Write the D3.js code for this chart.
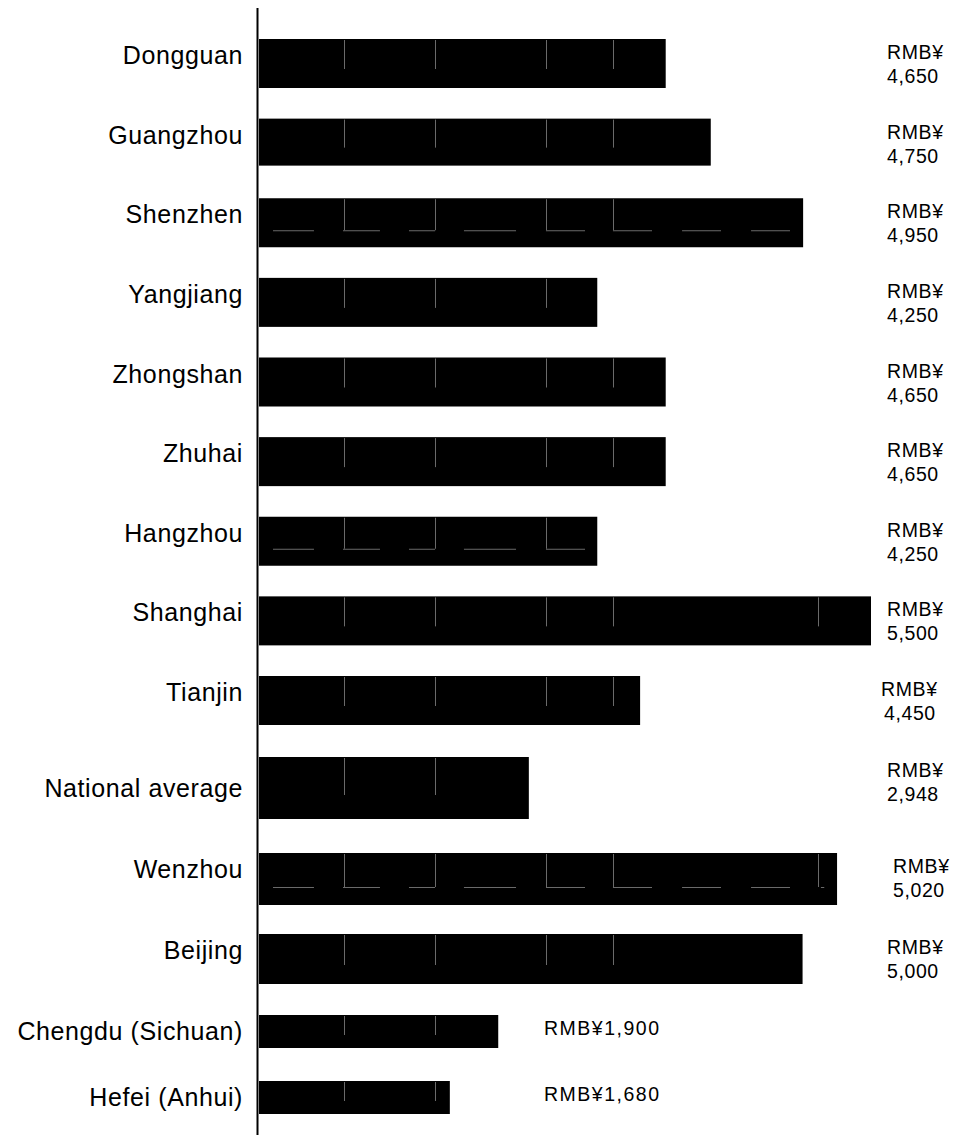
<!DOCTYPE html>
<html>
<head>
<meta charset="utf-8">
<script src="https://cdn.jsdelivr.net/npm/d3@7"></script>
<style>
  html, body { margin: 0; padding: 0; background: #fff; }
  svg { display: block; }
  text { font-family: "Liberation Sans", Arial, sans-serif; fill: #000; }
</style>
</head>
<body>
<svg id="chart" width="959" height="1135"></svg>
<script>
// ---- data ----
const categories = [
  "Dongguan", "Guangzhou", "Shenzhen", "Yangjiang", "Zhongshan", "Zhuhai",
  "Hangzhou", "Shanghai", "Tianjin", "National average", "Wenzhou",
  "Beijing", "Chengdu (Sichuan)", "Hefei (Anhui)"
];
// stated monthly value (RMB¥) shown in the labels
const wageValues = [4650, 4750, 4950, 4250, 4650, 4650, 4250, 5500, 4450, 2948, 5020, 5000, 1900, 1680];
// drawn bar lengths (same units, Shanghai = 5,500)
const barLengths = [3655, 4060, 4890, 3040, 3655, 3655, 3040, 5500, 3425, 2425, 5195, 4885, 2150, 1715];
// faint tile-boundary lines visible inside the bars (value units)
const gridValues = [764, 1582, 2575, 3181, 5024];
// short horizontal tile seams (value units: [start, end])
const seamValues = [[126, 494], [755, 1087], [1348, 1582], [1842, 2310], [2579, 2930],
                    [3181, 3532], [3802, 4152], [4422, 4772], [5050, 5080]];
const seamRows = ["Shenzhen", "Hangzhou", "Wenzhou"];

// ---- layout ----
const svg = d3.select("#chart");
const x = d3.scaleLinear().domain([0, 5500]).range([259, 871]);
const rowY = d3.scaleLinear().domain([0, 8, 9, 12, 13]).range([55, 692, 788, 1031, 1097]);

function geom(cat, i) {
  const c = rowY(i);
  let h = 49, off = 16;
  if (cat === "National average") { h = 62; off = 31; }
  else if (cat === "Chengdu (Sichuan)" || cat === "Hefei (Anhui)") { h = 33; }
  else if (cat === "Wenzhou") { h = 52; }
  else if (cat === "Beijing") { h = 50; }
  else if (cat === "Guangzhou") { h = 47; }
  return { c, top: c - off, h };
}

const rows = categories.map((cat, i) => ({
  cat, i, value: wageValues[i], len: barLengths[i], ...geom(cat, i)
}));

// bars
const g = svg.append("g");
g.selectAll("rect.bar").data(rows).join("rect")
  .attr("class", "bar")
  .attr("x", x(0))
  .attr("y", d => d.top)
  .attr("width", d => x(d.len) - x(0))
  .attr("height", d => d.h)
  .attr("fill", "#000");

// inner vertical tile lines
rows.forEach(d => {
  const depth = seamRows.includes(d.cat) ? Math.round(d.h * 0.66) : Math.round(d.h * 0.62);
  g.selectAll(null).data(gridValues.filter(v => v < d.len - 60)).join("line")
    .attr("x1", v => Math.round(x(v)) + 0.5)
    .attr("x2", v => Math.round(x(v)) + 0.5)
    .attr("y1", d.top + 1)
    .attr("y2", d.top + depth)
    .attr("stroke", "#6a6a6a")
    .attr("stroke-width", 1);
  if (seamRows.includes(d.cat)) {
    g.selectAll(null).data(seamValues.filter(s => s[1] < d.len)).join("line")
      .attr("x1", s => x(s[0]))
      .attr("x2", s => x(s[1]))
      .attr("y1", d.top + depth + 0.5)
      .attr("y2", d.top + depth + 0.5)
      .attr("stroke", "#6a6a6a")
      .attr("stroke-width", 1);
  }
});

// vertical axis line
svg.append("line")
  .attr("x1", x(0) - 1.5).attr("x2", x(0) - 1.5)
  .attr("y1", 8).attr("y2", 1135)
  .attr("stroke", "#000").attr("stroke-width", 2);

// category labels
svg.selectAll("text.cat").data(rows).join("text")
  .attr("class", "cat")
  .attr("x", 243)
  .attr("y", d => d.c)
  .attr("dy", "0.36em")
  .attr("text-anchor", "end")
  .style("font-size", "25px")
  .style("letter-spacing", "0.6px")
  .text(d => d.cat);

// value labels
const fmt = d3.format(",");
rows.forEach(d => {
  if (d.cat === "Chengdu (Sichuan)" || d.cat === "Hefei (Anhui)") {
    svg.append("text")
      .attr("x", 544).attr("y", d.top + 20)
      .style("font-size", "19.5px")
      .style("letter-spacing", "1.5px")
      .text("RMB¥" + fmt(d.value));
  } else {
    let x1 = 887, x2 = 887;
    if (d.cat === "Tianjin") { x1 = 881; x2 = 884; }
    if (d.cat === "Wenzhou") { x1 = 893; x2 = 893; }
    const t = svg.append("text").style("font-size", "19.5px").style("letter-spacing", "0.6px");
    t.append("tspan").attr("x", x1).attr("y", d.top + 20).text("RMB¥");
    t.append("tspan").attr("x", x2).attr("y", d.top + 44).text(fmt(d.value));
  }
});
</script>
</body>
</html>
